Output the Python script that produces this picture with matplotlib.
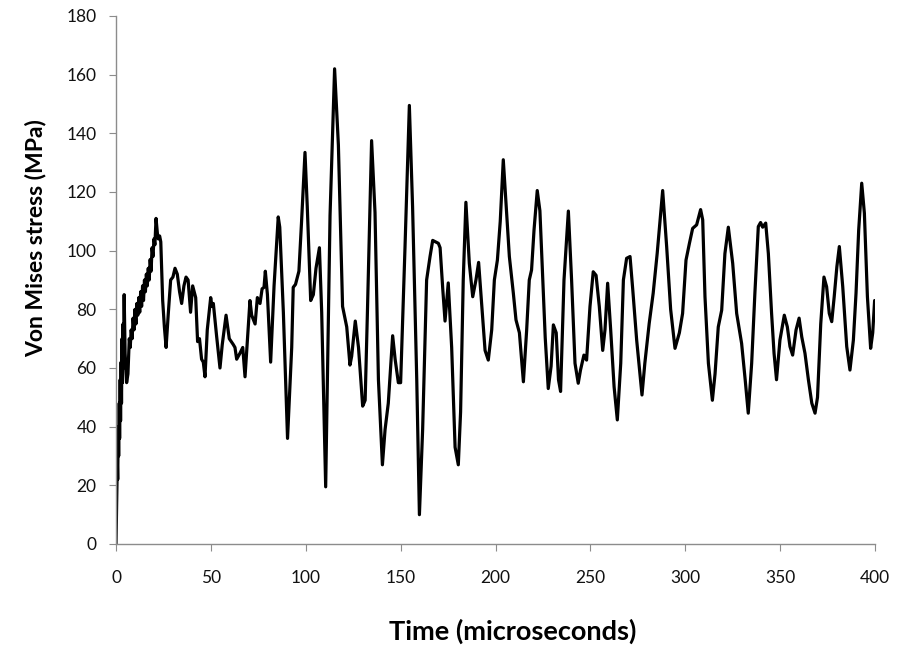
import matplotlib.pyplot as plt

# time (microseconds) and von Mises stress (MPa)
time_us = [
    0, 0.4, 0.7, 0.9, 1.2, 1.4, 1.7, 1.9, 2.2, 2.4, 2.7, 2.9, 3.2, 3.4, 3.7,
    3.9, 4.3, 4.8, 5.6, 6.3, 7.0, 7.5, 8.0, 8.5, 9.0, 9.5, 10.0, 10.5, 11.0,
    11.5, 12.0, 12.5, 13.0, 13.5, 14.0, 14.5, 15.0, 15.5, 16.0, 16.5, 17.0,
    17.5, 18.0, 18.5, 19.0, 19.5, 20.0, 20.5, 21.1, 21.8, 22.3, 23.0, 23.6,
    24.6, 25.5, 26.4, 27.5, 28.8, 30.0, 31.1, 32.3, 33.5, 34.6, 35.8, 36.9,
    38.0, 39.3, 40.4, 42.0, 43.0, 44.0, 45.1, 46.0, 46.9, 48.1, 49.9, 50.6,
    51.3, 53.0, 54.8, 56.0, 58.0, 59.7, 61.8, 62.7, 63.6, 65.3, 66.8, 68.0,
    69.3, 70.6, 71.5, 73.3, 74.5, 75.9, 77.0, 78.0, 78.7, 79.8, 81.5, 83.3,
    85.5, 86.3, 88.2, 90.4, 92.6, 93.4, 94.6, 96.4, 97.8, 99.6, 100.8, 102.6,
    104.0, 105.4, 107.2, 108.4, 110.5, 112.8, 115.2, 117.2, 119.4, 121.6,
    123.3, 124.2, 126.1, 127.8, 130.0, 131.3, 132.5, 134.7, 136.5, 138.3,
    140.4, 141.8, 143.5, 145.8, 147.1, 148.8, 150.0, 152.3, 154.6, 156.3,
    158.5, 159.9, 161.6, 163.7, 165.5, 166.9, 169.9, 170.8, 172.2, 173.4,
    175.1, 176.9, 178.7, 180.4, 181.6, 183.0, 184.4, 186.2, 188.0, 189.7,
    191.1, 192.7, 194.5, 196.2, 198.0, 199.4, 201.0, 202.5, 204.1, 205.9,
    207.3, 209.4, 210.8, 212.6, 214.7, 216.4, 217.8, 219.0, 220.3, 222.0,
    223.4, 224.8, 226.2, 227.8, 229.3, 230.5, 232.0, 233.2, 234.3, 236.1,
    238.4, 240.1, 241.9, 243.6, 244.8, 246.6, 248.0, 249.8, 251.5, 253.0,
    254.7, 256.5, 257.7, 259.1, 260.7, 262.5, 264.2, 266.0, 267.4, 269.1,
    270.9, 272.3, 274.4, 277.2, 278.7, 281.0, 283.1, 285.2, 288.1, 290.2,
    292.3, 294.6, 296.9, 298.6, 300.4, 302.2, 303.9, 306.0, 308.1, 309.2,
    310.4, 312.2, 314.3, 315.7, 317.4, 319.2, 320.9, 322.7, 325.0, 327.1,
    329.7, 331.6, 333.2, 335.0, 336.7, 338.5, 339.7, 340.8, 342.4, 343.8,
    345.5, 346.8, 348.1, 349.9, 352.2, 353.8, 355.2, 356.6, 358.4, 360.0,
    361.4, 363.1, 364.9, 366.7, 368.4, 369.7, 371.4, 373.1, 374.5, 375.9,
    377.2, 378.5, 379.9, 381.2, 383.0, 385.1, 386.8, 388.6, 390.0, 391.4,
    393.0, 394.4, 396.0, 397.7, 398.8, 399.8,
]

stress_mpa = [
    0, 15, 28, 22, 40, 30, 48, 36, 56, 42, 62, 48, 70, 55, 75,
    60, 85, 65, 55, 58, 70, 67, 73, 70, 77, 73, 80, 75, 82,
    78, 84, 79, 86, 81, 88, 83, 90, 86, 92, 88, 94,
    90, 97, 93, 101, 98, 104, 102, 111, 106, 104, 105, 103,
    83, 74, 67, 78, 90, 91, 94, 92, 86, 82, 88, 91,
    90, 79, 88, 84, 69, 70, 63, 62, 57, 73, 84, 81,
    82, 71, 60, 68, 78, 70, 68, 67, 63, 65, 67, 57,
    70, 83, 78, 75, 84, 82, 87, 87.5, 93, 85, 62, 88,
    111.5, 108, 79, 36, 67, 87.5, 88.5, 93, 110, 133.5, 115, 83,
    85, 94, 101, 79, 19.5, 112, 162, 136, 81, 74,
    61, 64, 76, 67, 47, 49, 79, 137.5, 113, 56,
    27, 39, 48, 71, 63, 55, 55, 101, 149.5, 115,
    56, 10, 39, 90, 98, 103.5, 102.5, 101, 87, 76,
    89, 67, 33, 27, 45, 90, 116.5, 95.7, 84.3, 90,
    96, 82, 66, 62.7, 73, 90, 96.8, 110, 131, 112.7,
    98, 85.5, 76.4, 72, 55.3, 72.7, 90, 93.4, 107, 120.5,
    113.6, 92.3, 70.4, 53, 60.6, 74.7, 72, 56, 52, 90,
    113.5, 90, 61.6, 54.8, 59.3, 64.4, 62.7, 81, 92.8, 91.6,
    81, 66, 73, 88.9, 73, 53.6, 42.3, 61.6, 90, 97.4,
    98, 87, 69.5, 50.8, 61.6, 75.2, 85.5, 99, 120.5, 101.4,
    80, 66.7, 72, 78.6, 96.8, 102.5, 107.6, 108.8, 114, 110.5,
    84.3, 61.6, 49, 58, 74, 79.7, 99, 108, 95.7, 78.6,
    68.4, 55.9, 44.6, 61.6, 85.5, 108.2, 109.6, 108, 109.4, 99,
    78.6, 65, 56, 69.5, 78, 74, 67.3, 64.4, 73, 77,
    70.6, 65, 56, 48, 44.6, 50, 75, 91, 87.7, 78.6,
    75.8, 84.3, 94.5, 101.4, 87.7, 67.3, 59.3, 69.5, 85.5, 107,
    123, 112.8, 84.3, 66.7, 72, 83,
]

plt.rcParams['font.family'] = ['Lato', 'DejaVu Sans']

fig = plt.figure(figsize=(9.05, 6.47), dpi=100)
ax = fig.add_axes([116/905, 103/647, 759/905, 528/647])

ax.plot(time_us, stress_mpa, color='black', linewidth=2.3,
        solid_joinstyle='round', solid_capstyle='round')

ax.set_xlim(0, 400)
ax.set_ylim(0, 180)
ax.set_xticks(range(0, 401, 50))
ax.set_yticks(range(0, 181, 20))

for side in ['top', 'right']:
    ax.spines[side].set_visible(False)
for side in ['left', 'bottom']:
    ax.spines[side].set_color('#8c8c8c')
    ax.spines[side].set_linewidth(1)

ax.tick_params(axis='x', direction='out', length=5, color='#8c8c8c',
               labelsize=12.5, pad=14, labelcolor='#111111')
ax.tick_params(axis='y', direction='out', length=5, color='#8c8c8c',
               labelsize=12.5, pad=9, labelcolor='#111111')

ax.set_xlabel("Time (microseconds)", fontsize=19.5, fontweight='bold')
ax.set_ylabel("Von Mises stress (MPa)", fontsize=16.5, fontweight='bold')
# Excel-style title placement (not centred on the axis)
ax.xaxis.set_label_coords(0.522, -0.142)
ax.yaxis.set_label_coords(-0.092, 0.58)

fig.savefig("out.png", dpi=100)
